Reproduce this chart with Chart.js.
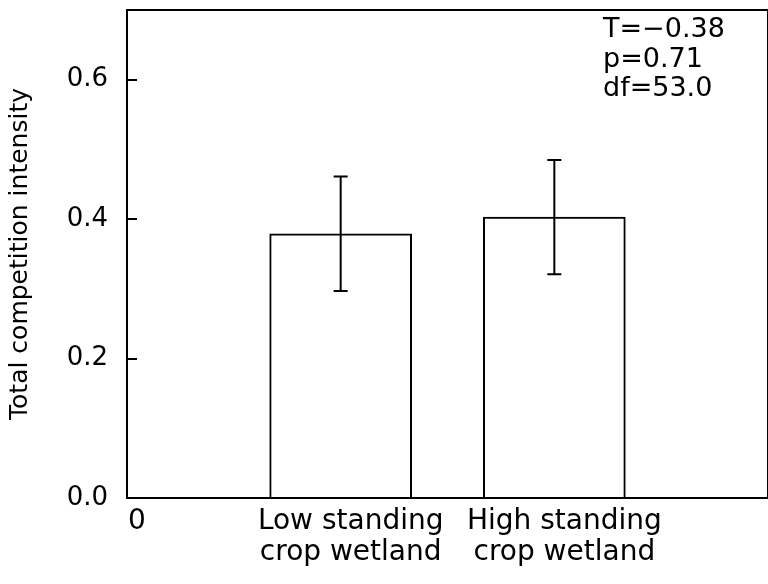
<!DOCTYPE html>
<html>
<head>
<meta charset="utf-8">
<title>Total competition intensity</title>
<script src="https://cdn.jsdelivr.net/npm/chart.js@4.4.0/dist/chart.umd.min.js"></script>
<style>
    html, body { margin: 0; padding: 0; background: #fff; }
    canvas { display: block; }
</style>
</head>
<body>
<canvas id="intensityChart" width="768" height="584"></canvas>
<script>
// wetland groups, placed on a numeric x axis (0 .. 3)
const groupLabels = [['Low standing', 'crop wetland'], ['High standing', 'crop wetland']];
const groupPositions = [1, 2];
const meanIntensity = [0.379, 0.403];
const seIntensity = [0.082, 0.082];

const yTickValues = [0, 0.2, 0.4, 0.6];
const xTickValues = [0, 1, 2];
const statLines = ['T=\u22120.38', 'p=0.71', 'df=53.0'];

const FONT = '"DejaVu Sans", "Liberation Sans", sans-serif';

// vertical error bars with flat caps
const errorBars = {
    id: 'errorBars',
    afterDatasetsDraw(chart) {
        const { ctx, scales: { x, y } } = chart;
        ctx.save();
        ctx.strokeStyle = '#000';
        ctx.lineWidth = 2;
        groupPositions.forEach((pos, i) => {
            const px = x.getPixelForValue(pos);
            const top = y.getPixelForValue(meanIntensity[i] + seIntensity[i]);
            const bottom = y.getPixelForValue(meanIntensity[i] - seIntensity[i]);
            ctx.beginPath();
            ctx.moveTo(px, top);
            ctx.lineTo(px, bottom);
            ctx.moveTo(px - 7, top);
            ctx.lineTo(px + 7, top);
            ctx.moveTo(px - 7, bottom);
            ctx.lineTo(px + 7, bottom);
            ctx.stroke();
        });
        ctx.restore();
    }
};

// box around the plot and the t-test summary in the corner
const frameAndStats = {
    id: 'frameAndStats',
    afterDraw(chart) {
        const { ctx, chartArea: a } = chart;
        ctx.save();
        ctx.strokeStyle = '#000';
        ctx.lineWidth = 2;
        ctx.strokeRect(a.left, a.top, a.right - a.left, a.bottom - a.top);

        ctx.fillStyle = '#000';
        ctx.font = '27px ' + FONT;
        ctx.textAlign = 'left';
        ctx.textBaseline = 'alphabetic';
        statLines.forEach((line, i) => {
            ctx.fillText(line, a.left + 476, a.top + 27 + i * 29.5);
        });
        ctx.restore();
    }
};

// keep the axes from reserving room for label overhang
function noOverhang(scale) {
    scale.paddingTop = 0;
    scale.paddingBottom = 0;
    scale.paddingLeft = 0;
    scale.paddingRight = 0;
}

Chart.defaults.color = '#000';
Chart.defaults.font.family = FONT;

new Chart(document.getElementById('intensityChart'), {
    type: 'bar',
    data: {
        datasets: [{
            data: groupPositions.map((pos, i) => ({ x: pos, y: meanIntensity[i] })),
            backgroundColor: '#fff',
            borderColor: '#000',
            borderWidth: 2,
            borderSkipped: 'start',
            barThickness: 142
        }]
    },
    options: {
        responsive: false,
        animation: false,
        layout: { padding: { top: 10, right: -3, bottom: 0, left: 0 } },
        plugins: {
            legend: { display: false },
            tooltip: { enabled: false }
        },
        scales: {
            x: {
                type: 'linear',
                offset: false,
                min: 0,
                max: 3,
                afterBuildTicks: (scale) => {
                    scale.ticks = xTickValues.map(v => ({ value: v }));
                },
                afterFit: (scale) => {
                    scale.height = 86;
                    noOverhang(scale);
                },
                grid: { display: false, drawTicks: false },
                border: { display: true, color: '#000', width: 2 },
                ticks: {
                    autoSkip: false,
                    maxRotation: 0,
                    padding: 9,
                    labelOffset: 10,
                    font: { size: 28, lineHeight: 1.08 },
                    callback: (value) => {
                        const i = groupPositions.indexOf(value);
                        return i >= 0 ? groupLabels[i] : String(value);
                    }
                }
            },
            y: {
                min: 0,
                max: 0.7,
                afterBuildTicks: (scale) => {
                    scale.ticks = yTickValues.map(v => ({ value: v }));
                },
                afterFit: (scale) => {
                    scale.width = 127;
                    noOverhang(scale);
                },
                grid: {
                    drawOnChartArea: false,
                    drawTicks: true,
                    tickLength: -10,
                    color: '#000',
                    lineWidth: 2
                },
                border: { display: true, color: '#000', width: 2 },
                ticks: {
                    padding: 29,
                    font: { size: 26 },
                    callback: (value) => value.toFixed(1)
                },
                title: {
                    display: true,
                    text: 'Total competition intensity',
                    font: { size: 25 },
                    padding: { top: 5, bottom: 0 }
                }
            }
        }
    },
    plugins: [errorBars, frameAndStats]
});
</script>
</body>
</html>
